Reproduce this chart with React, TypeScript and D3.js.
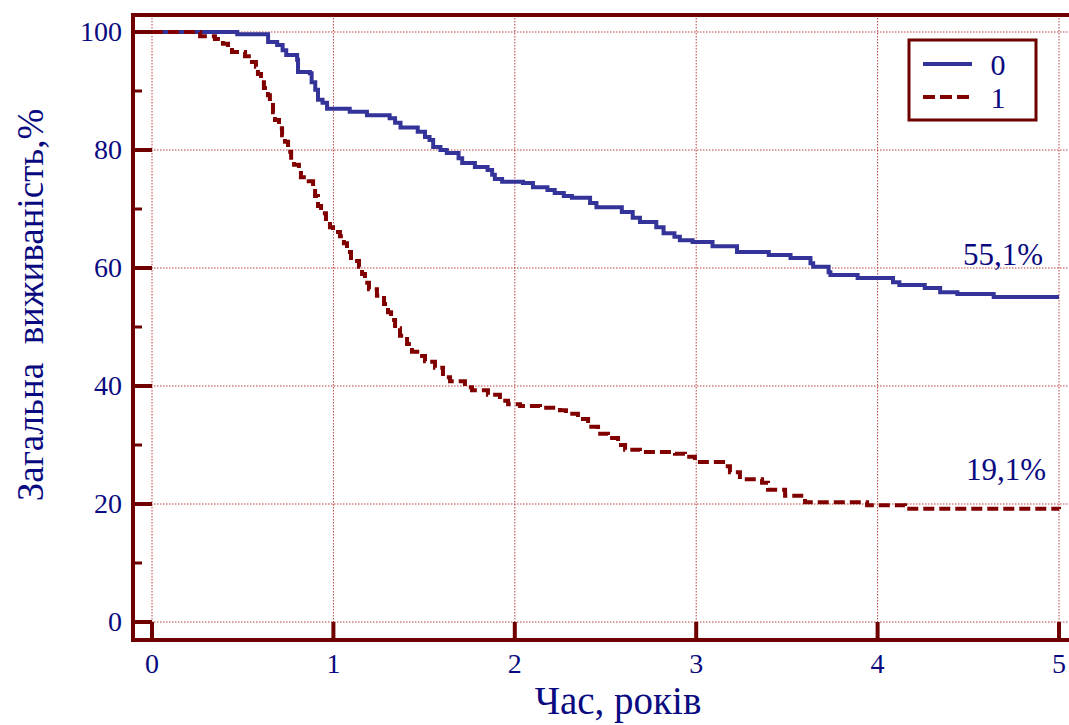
import React, { useEffect, useRef } from "react";
import * as d3 from "d3";

// Kaplan-Meier steps: [years, survival %], value holds from that time on
const group0: [number, number][] = [
  [0, 100], [0.47, 99.6], [0.64, 98.3], [0.69, 97.8], [0.72, 96.9], [0.74, 96.1],
  [0.8, 95.3], [0.805, 93.2], [0.87, 93.0], [0.88, 91.5], [0.9, 90.2], [0.915, 88.5],
  [0.94, 88.0], [0.965, 87.0], [1.09, 86.5], [1.185, 85.9], [1.31, 85.4], [1.34, 84.6],
  [1.37, 83.8], [1.465, 83.1], [1.505, 82.2], [1.53, 81.7], [1.55, 80.5], [1.59, 80.0],
  [1.625, 79.5], [1.69, 78.6], [1.71, 77.8], [1.78, 77.1], [1.85, 76.6], [1.875, 75.8],
  [1.89, 75.1], [1.93, 74.6], [2.045, 74.4], [2.1, 73.7], [2.18, 73.2], [2.22, 72.7],
  [2.27, 72.2], [2.315, 71.9], [2.415, 71.0], [2.45, 70.3], [2.59, 69.5], [2.65, 68.5],
  [2.69, 67.8], [2.78, 66.9], [2.82, 65.9], [2.88, 65.3], [2.91, 64.7], [2.98, 64.4],
  [3.09, 63.7], [3.225, 62.7], [3.4, 62.2], [3.52, 61.7], [3.63, 60.8], [3.645, 60.2],
  [3.73, 59.3], [3.74, 58.8], [3.89, 58.3], [4.085, 57.6], [4.12, 57.1], [4.26, 56.6],
  [4.345, 55.9], [4.44, 55.6], [4.64, 55.1], [5.0, 55.1],
];

const group1: [number, number][] = [
  [0, 100], [0.265, 99.3], [0.347, 98.8], [0.391, 98.0], [0.419, 97.3], [0.441, 96.6],
  [0.513, 95.9], [0.551, 94.9], [0.573, 94.1], [0.584, 92.9], [0.601, 91.5], [0.617, 90.5],
  [0.639, 89.3], [0.65, 88.0], [0.667, 86.4], [0.678, 85.1], [0.7, 83.7], [0.717, 82.5],
  [0.733, 81.4], [0.75, 79.7], [0.767, 78.3], [0.783, 77.5], [0.81, 76.6], [0.821, 75.4],
  [0.849, 74.7], [0.888, 73.6], [0.899, 72.2], [0.915, 70.5], [0.932, 69.3], [0.959, 68.3],
  [0.981, 66.9], [0.998, 66.1], [1.036, 65.4], [1.058, 64.2], [1.075, 62.7], [1.097, 61.2],
  [1.141, 60.2], [1.158, 59.0], [1.174, 57.5], [1.196, 56.4], [1.24, 55.3], [1.279, 53.9],
  [1.301, 52.5], [1.318, 51.2], [1.34, 49.8], [1.367, 48.5], [1.406, 47.1], [1.433, 45.8],
  [1.477, 45.1], [1.505, 44.2], [1.533, 44.1], [1.56, 43.1], [1.604, 41.5], [1.643, 40.8],
  [1.725, 39.8], [1.764, 39.3], [1.852, 38.5], [1.918, 37.5], [1.963, 36.9], [2.029, 36.6],
  [2.139, 36.3], [2.249, 35.9], [2.282, 35.3], [2.348, 34.4], [2.404, 33.1], [2.459, 31.9],
  [2.514, 31.2], [2.569, 30.0], [2.608, 29.2], [2.69, 28.8], [2.883, 28.5], [2.938, 28.0],
  [2.993, 27.1], [3.148, 26.4], [3.186, 25.4], [3.241, 24.2], [3.363, 23.6], [3.396, 22.4],
  [3.49, 21.4], [3.6, 20.3], [3.942, 19.8], [4.151, 19.2], [5.0, 19.1],
];

const xTicks = [0, 1, 2, 3, 4, 5];
const yTicks = [0, 20, 40, 60, 80, 100];
const yMinorTicks = [10, 30, 50, 70, 90];
const legendLabels = ["0", "1"];
const endLabels = ["55,1%", "19,1%"];

const W = 1069, H = 725;
const FRAME = "#6e0000";
const TEXT = "#0a0a80";
const BLUE = "#333399";
const RED = "#800000";
const FONT = "'Liberation Serif', 'DejaVu Serif', serif";

export default function App() {
  const svgRef = useRef<SVGSVGElement>(null);

  useEffect(() => {
    const svg = d3.select(svgRef.current);
    svg.selectAll("*").remove();

    const x = d3.scaleLinear().domain([0, 5]).range([152, 1059]);
    const y = d3.scaleLinear().domain([0, 100]).range([622, 32]);
    const frameLeft = 133, frameTop = 15, frameBottom = 640;

    // dotted grid
    const grid = svg.append("g").attr("stroke", "#b84040").attr("stroke-width", 1)
      .attr("stroke-dasharray", "1.5,1.5");
    grid.selectAll(".gx").data(xTicks).enter().append("line")
      .attr("x1", d => x(d)).attr("x2", d => x(d))
      .attr("y1", frameTop).attr("y2", frameBottom);
    grid.selectAll(".gy").data(yTicks).enter().append("line")
      .attr("x1", frameLeft).attr("x2", W)
      .attr("y1", d => y(d)).attr("y2", d => y(d));

    // frame
    svg.append("path")
      .attr("d", `M${W + 5},${frameTop} H${frameLeft} V${frameBottom} H${W + 5}`)
      .attr("fill", "none").attr("stroke", FRAME).attr("stroke-width", 4);

    // ticks
    svg.selectAll(".ty").data(yTicks).enter().append("line")
      .attr("x1", frameLeft).attr("x2", x(0))
      .attr("y1", d => y(d)).attr("y2", d => y(d))
      .attr("stroke", FRAME).attr("stroke-width", 4);
    svg.selectAll(".tym").data(yMinorTicks).enter().append("line")
      .attr("x1", frameLeft).attr("x2", frameLeft + 9)
      .attr("y1", d => y(d)).attr("y2", d => y(d))
      .attr("stroke", FRAME).attr("stroke-width", 3);
    svg.selectAll(".tx").data(xTicks).enter().append("line")
      .attr("x1", d => x(d)).attr("x2", d => x(d))
      .attr("y1", y(0)).attr("y2", frameBottom)
      .attr("stroke", FRAME).attr("stroke-width", 4);

    // tick labels
    svg.selectAll(".ly").data(yTicks).enter().append("text")
      .attr("x", 122).attr("y", d => y(d))
      .attr("dy", "0.33em").attr("text-anchor", "end")
      .attr("font-family", FONT).attr("font-size", 28).attr("fill", TEXT)
      .text(d => d);
    svg.selectAll(".lx").data(xTicks).enter().append("text")
      .attr("x", d => x(d)).attr("y", 673)
      .attr("text-anchor", "middle")
      .attr("font-family", FONT).attr("font-size", 28).attr("fill", TEXT)
      .text(d => d);

    // axis titles
    svg.append("text")
      .attr("transform", "translate(43,305) rotate(-90)")
      .attr("text-anchor", "middle")
      .attr("font-family", FONT).attr("font-size", 37).attr("fill", TEXT)
      .attr("xml:space", "preserve")
      .text("Загальна  виживаність,%");
    svg.append("text")
      .attr("x", 618).attr("y", 714).attr("text-anchor", "middle")
      .attr("font-family", FONT).attr("font-size", 39).attr("fill", TEXT)
      .text("Час, років");

    // survival curves
    const line = d3.line<[number, number]>()
      .x(d => x(d[0])).y(d => y(d[1]))
      .curve(d3.curveStepAfter);
    svg.append("path").datum(group0).attr("d", line)
      .attr("fill", "none").attr("stroke", BLUE).attr("stroke-width", 4);
    svg.append("path").datum(group1).attr("d", line)
      .attr("fill", "none").attr("stroke", RED).attr("stroke-width", 4)
      .attr("stroke-dasharray", "11,5");

    // end labels
    const lastVals = [group0[group0.length - 1][1], group1[group1.length - 1][1]];
    svg.selectAll(".end").data(endLabels).enter().append("text")
      .attr("x", (d, i) => (i === 0 ? 1043 : 1046))
      .attr("y", (d, i) => y(lastVals[i]) - (i === 0 ? 32 : 29))
      .attr("text-anchor", "end")
      .attr("font-family", FONT).attr("font-size", 31).attr("fill", TEXT)
      .text(d => d);

    // legend
    const lg = svg.append("g");
    lg.append("rect").attr("x", 909).attr("y", 40).attr("width", 127).attr("height", 80)
      .attr("fill", "white").attr("stroke", FRAME).attr("stroke-width", 3);
    const colors = [BLUE, RED];
    legendLabels.forEach((lab, i) => {
      const ly = 64 + i * 33;
      lg.append("line").attr("x1", 923).attr("x2", 972).attr("y1", ly).attr("y2", ly)
        .attr("stroke", colors[i]).attr("stroke-width", 4)
        .attr("stroke-dasharray", i === 1 ? "12,5" : null);
      lg.append("text").attr("x", 998).attr("y", ly).attr("dy", "0.35em")
        .attr("text-anchor", "middle")
        .attr("font-family", FONT).attr("font-size", 30).attr("fill", TEXT)
        .text(lab);
    });
  }, []);

  return (
    <svg ref={svgRef} width={W} height={H}
      style={{ position: "absolute", left: 0, top: 0, background: "white" }} />
  );
}
